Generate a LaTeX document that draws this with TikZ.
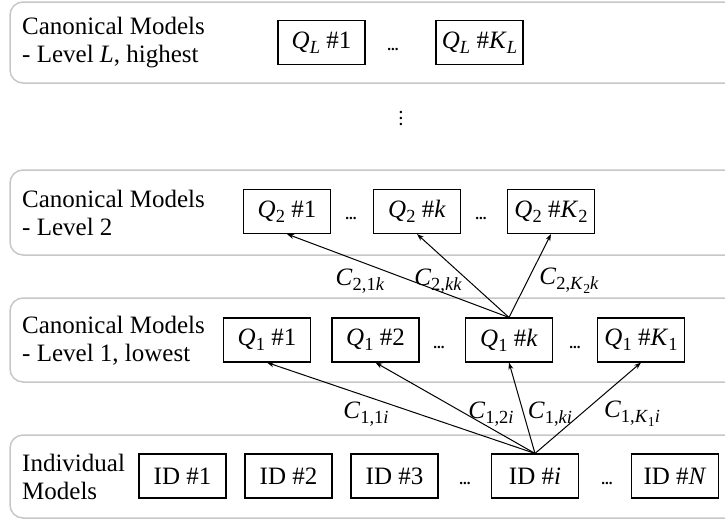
\documentclass[tikz,border=0pt]{standalone}
\usepackage{graphicx}
\usepackage{fontspec}
\setmainfont{Liberation Serif}
\usetikzlibrary{arrows.meta}
\newcommand\vi[1]{\textit{#1}}
\newcommand\sbs[1]{\raisebox{-0.2em}{\scalebox{0.74}{#1}}}
\tikzset{
  panel/.style={draw=black!22, line width=1.5pt, rounded corners=13pt},
  mbox/.style={draw=black, line width=1.1pt, minimum width=87pt, minimum height=44pt, inner sep=0pt},
  rowlabel/.style={anchor=west, align=left, inner sep=0pt},
  hdots/.style={anchor=base, inner sep=0pt, font=\fontsize{15}{15}\selectfont\bfseries},
  conn/.style={line width=1pt, -{Stealth[length=7pt,width=5pt]}},
  clabel/.style={inner sep=0pt, font=\fontsize{25}{25}\selectfont}
}
\begin{document}
\begin{tikzpicture}[x=1pt,y=-1pt]
\useasboundingbox (0,0) rectangle (725,520);
\clip (0,0) rectangle (725,520);
\fontsize{25}{28}\selectfont
% panels
\draw[panel] (10,2) rectangle (760,83);
\draw[panel] (10,170) rectangle (760,255);
\draw[panel] (10,298) rectangle (760,382);
\draw[panel] (10,435) rectangle (760,518);
% row labels
\node[rowlabel] (tL) at (22,43) {Canonical Models\\- Level \vi{L}, highest};
\node[rowlabel] (t2) at (22,213) {Canonical Models\\- Level 2};
\node[rowlabel] (t1) at (22,341) {Canonical Models\\- Level 1, lowest};
\node[rowlabel] (t0) at (22,477) {Individual\\Models};
% level L
\node[mbox] (qL1) at (321.5,42.5) {\vi{Q}\sbs{\vi{L}} \#1};
\node[hdots] (dL) at (393,50.5) {...};
\node[mbox] (qLK) at (479.5,42.5) {\vi{Q}\sbs{\vi{L}} \#\vi{K}\sbs{\vi{L}}};
% vertical dots
\node[inner sep=0pt, align=center, font=\fontsize{15}{6}\selectfont\bfseries] (vd) at (401,118) {.\\.\\.};
% level 2
\node[mbox] (q21) at (287,211.5) {\vi{Q}\sbs{2} \#1};
\node[hdots] (d21) at (351,219.5) {...};
\node[mbox] (q2k) at (417,211.5) {\vi{Q}\sbs{2} \#\vi{k}};
\node[hdots] (d22) at (481,219.5) {...};
\node[mbox] (q2K) at (551,211.5) {\vi{Q}\sbs{2} \#\vi{K}\sbs{2}};
% level 1
\node[mbox] (q11) at (267,340) {\vi{Q}\sbs{1} \#1};
\node[mbox] (q12) at (375.5,340) {\vi{Q}\sbs{1} \#2};
\node[hdots] (d11) at (439,348) {...};
\node[mbox] (q1k) at (509,340) {\vi{Q}\sbs{1} \#\vi{k}};
\node[hdots] (d12) at (575,348) {...};
\node[mbox] (q1K) at (641,340) {\vi{Q}\sbs{1} \#\vi{K}\sbs{1}};
% individual
\node[mbox] (id1) at (182.5,476) {ID \#1};
\node[mbox] (id2) at (288.5,476) {ID \#2};
\node[mbox] (id3) at (394.5,476) {ID \#3};
\node[hdots] (d01) at (465,484) {...};
\node[mbox] (idi) at (535,476) {ID \#\vi{i}};
\node[hdots] (d02) at (607,484) {...};
\node[mbox] (idN) at (675,476) {ID \#\vi{N}};
% connectors level 1 -> 2
\draw[conn] (q1k.north) -- (q21.south);
\draw[conn] (q1k.north) -- (q2k.south);
\draw[conn] (q1k.north) -- (q2K.south);
% connectors individual -> level 1
\draw[conn] (idi.north) -- (q11.south);
\draw[conn] (idi.north) -- (q12.south);
\draw[conn] (idi.north) -- (q1k.south);
\draw[conn] (idi.north) -- (q1K.south);
% labels
\node[clabel] (c21) at (360,281) {\vi{C}\sbs{2,1\vi{k}}};
\node[clabel] (c2k) at (438,281) {\vi{C}\sbs{2,\vi{kk}}};
\node[clabel] (c2K) at (569,281) {\vi{C}\sbs{2,\vi{K}\sbs{2}\vi{k}}};
\node[clabel] (c11) at (366,414) {\vi{C}\sbs{1,1\vi{i}}};
\node[clabel] (c12) at (491,414) {\vi{C}\sbs{1,2\vi{i}}};
\node[clabel] (c1k) at (550,414) {\vi{C}\sbs{1,\vi{ki}}};
\node[clabel] (c1K) at (632,414) {\vi{C}\sbs{1,\vi{K}\sbs{1}\vi{i}}};
\end{tikzpicture}
\end{document}
